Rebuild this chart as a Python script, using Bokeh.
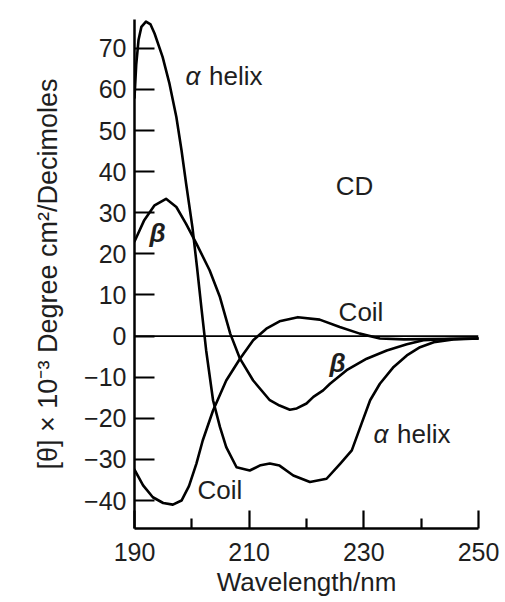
from bokeh.plotting import figure
from bokeh.models import FixedTicker, Span, ColumnDataSource, Range1d
from bokeh.core.properties import value
from bokeh.embed import file_html
from bokeh.resources import INLINE

# ---- data ----
alpha_x = [190.0, 190.3, 190.7, 191.2, 192.0, 192.8, 193.5, 194.9, 196.1, 197.3, 198.2, 199.0,
           200.1, 200.9, 201.7, 202.5, 203.7, 204.9, 206.0, 207.8, 210.1, 212.0, 213.6, 215.3,
           217.7, 220.6, 223.5, 225.9, 227.9, 229.6, 231.1, 232.8, 235.2, 237.5, 239.8, 242.2,
           245.6, 250.0]
alpha_y = [58.0, 66.0, 72.0, 75.2, 76.5, 75.8, 73.6, 67.9, 61.4, 53.3, 45.2, 37.1,
           26.5, 16.8, 6.5, -3.5, -15.6, -22.1, -27.0, -31.9, -32.7, -31.4, -31.0, -31.5,
           -33.9, -35.5, -34.7, -31.0, -27.8, -21.3, -15.6, -11.6, -7.5, -4.7, -2.7, -1.5,
           -0.8, -0.6]

beta_x = [190.0, 191.7, 193.5, 195.5, 197.3, 199.0, 200.8, 203.1, 204.9, 206.7, 208.4, 210.7,
          213.6, 215.3, 217.1, 218.3, 220.0, 221.2, 222.9, 224.1, 227.0, 230.5, 234.0, 237.5,
          240.4, 245.0, 250.0]
beta_y = [23.0, 28.2, 31.8, 33.4, 31.4, 27.3, 22.5, 16.0, 9.5, 0.6, -5.5, -10.8,
          -15.6, -16.9, -17.9, -17.6, -16.4, -14.8, -13.2, -11.6, -8.3, -5.5, -3.5, -2.0,
          -1.0, -0.7, -0.6]

coil_x = [190.0, 191.5, 193.2, 195.0, 196.7, 198.2, 199.5, 200.8, 201.9, 203.7, 206.0, 208.4,
          210.7, 213.0, 215.3, 218.5, 222.3, 225.8, 229.3, 232.8, 237.0, 250.0]
coil_y = [-32.5, -36.3, -39.2, -40.6, -41.0, -40.0, -36.5, -31.0, -25.4, -18.1, -10.8, -5.5,
          -1.0, 1.8, 3.6, 4.6, 4.0, 2.2, 0.6, -0.6, -0.8, -0.6]

x_ticks = [190, 210, 230, 250]
x_minor_ticks = [200, 220, 240]
y_ticks = [-40, -30, -20, -10, 0, 10, 20, 30, 40, 50, 60, 70]

FONT = "Liberation Sans"
INK = "#1e1e1e"

p = figure(width=505, height=602, output_backend="svg", toolbar_location=None,
           x_range=Range1d(190, 250), y_range=Range1d(-46.8, 77),
           min_border_left=134, min_border_right=27, min_border_top=19, min_border_bottom=74)
p.outline_line_color = None
p.grid.visible = False
p.background_fill_color = "white"
p.border_fill_color = "white"

# x axis
xa = p.xaxis[0]
xa.ticker = FixedTicker(ticks=x_ticks, minor_ticks=x_minor_ticks)
xa.axis_line_width = 2.5
xa.axis_line_color = "black"
xa.major_tick_in = 18
xa.major_tick_out = 0
xa.minor_tick_in = 10
xa.minor_tick_out = 0
xa.major_tick_line_width = 2.2
xa.minor_tick_line_width = 2.2
xa.major_label_text_font = FONT
xa.major_label_text_font_size = "25px"
xa.major_label_text_color = INK
xa.major_label_standoff = 14
xa.axis_label = "Wavelength/nm"
xa.axis_label_text_font = FONT
xa.axis_label_text_font_size = "26px"
xa.axis_label_text_font_style = "normal"
xa.axis_label_text_color = INK
xa.axis_label_standoff = 3

# y axis
ya = p.yaxis[0]
ya.ticker = FixedTicker(ticks=y_ticks, minor_ticks=[])
ya.major_label_overrides = {t: (("\u2212" + str(-t)) if t < 0 else str(t)) for t in y_ticks}
ya.axis_line_width = 2.5
ya.axis_line_color = "black"
ya.major_tick_in = 20
ya.major_tick_out = 0
ya.minor_tick_in = 0
ya.minor_tick_out = 0
ya.major_tick_line_width = 2.2
ya.major_label_text_font = FONT
ya.major_label_text_font_size = "25px"
ya.major_label_text_color = INK
ya.major_label_standoff = 8
ya.axis_label = "[\u03b8] \u00d7 10\u207b\u00b3 Degree cm\u00b2/Decimoles"
ya.axis_label_text_font = FONT
ya.axis_label_text_font_size = "27px"
ya.axis_label_text_font_style = "normal"
ya.axis_label_text_color = INK
ya.axis_label_standoff = 18

# zero line
p.add_layout(Span(location=0, dimension="width", line_color="black", line_width=1.6))

# curves
for xs, ys in ((alpha_x, alpha_y), (beta_x, beta_y), (coil_x, coil_y)):
    p.line(xs, ys, line_color="black", line_width=2.6, line_join="round", line_cap="round")

# labels
def put(x, y, t, style="normal", size="26px"):
    src = ColumnDataSource(dict(x=[x], y=[y], t=[t]))
    p.text(x="x", y="y", text="t", source=src, text_font=value(FONT),
           text_font_size=size, text_font_style=style, text_color=INK,
           text_align="left", text_baseline="middle")

put(198.9, 63.2, "\u03b1", "italic")
put(203.0, 63.2, "helix")
put(225.1, 36.4, "CD")
put(192.6, 25.0, "\u03b2", "bold italic")
put(225.6, 5.8, "Coil")
put(224.0, -6.6, "\u03b2", "bold italic")
put(231.7, -23.7, "\u03b1", "italic")
put(235.8, -23.7, "helix")
put(201.0, -37.5, "Coil")

open("out.html", "w").write(file_html(p, INLINE))
